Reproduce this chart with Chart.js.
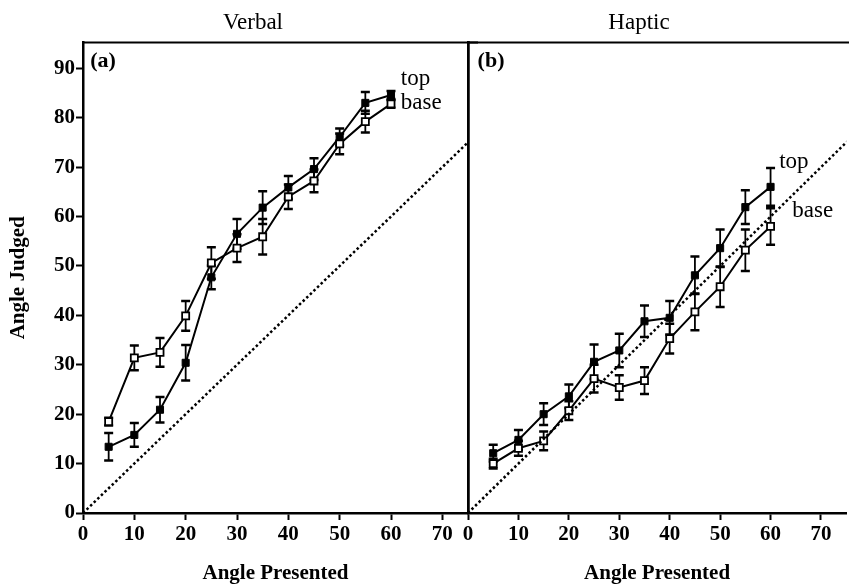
<!DOCTYPE html>
<html>
<head>
<meta charset="utf-8">
<script src="https://cdn.jsdelivr.net/npm/chart.js@4.4.1/dist/chart.umd.min.js"></script>
<style>
  html, body { margin: 0; padding: 0; background: #fff; overflow: hidden; width: 849px; height: 586px; }
  .panel { position: absolute; top: 0; height: 586px; }
  #wrapA { left: 0; width: 506px; }
  #wrapB { left: 425px; width: 428px; }
</style>
</head>
<body>
<div class="panel" id="wrapA"><canvas id="verbal"></canvas></div>
<div class="panel" id="wrapB"><canvas id="haptic"></canvas></div>
<script>
const anglesPresented = [5, 10, 15, 20, 25, 30, 35, 40, 45, 50, 55, 60];

const verbalTop = [13.4, 15.8, 20.9, 30.4, 47.7, 56.5, 61.8, 65.9, 69.6, 76.1, 83.0, 84.6];
const verbalTopErr = [2.8, 2.4, 2.6, 3.6, 2.4, 3.0, 3.3, 2.3, 2.2, 1.7, 2.2, 0.8];
const verbalBase = [18.5, 31.4, 32.5, 39.9, 50.6, 53.6, 55.9, 64.0, 67.2, 74.7, 79.2, 82.8];
const verbalBaseErr = [0.8, 2.5, 2.9, 3.0, 3.2, 2.8, 3.6, 2.5, 2.3, 2.1, 2.2, 0.8];

const hapticTop = [12.1, 14.8, 20.0, 23.6, 30.6, 32.9, 38.8, 39.5, 48.1, 53.6, 61.9, 66.0];
const hapticTopErr = [1.7, 2.0, 2.2, 2.4, 3.5, 3.4, 3.2, 3.4, 3.8, 3.8, 3.4, 3.8];
const hapticBase = [10.0, 13.1, 14.6, 20.7, 27.2, 25.4, 26.8, 35.3, 40.7, 45.8, 53.2, 58.0];
const hapticBaseErr = [1.0, 1.5, 1.9, 1.9, 2.8, 2.5, 2.7, 3.0, 3.7, 4.1, 4.2, 3.7];

// perfect-accuracy diagonal (judged == presented)
const identityRange = [0, 100];

const xTicks = [0, 10, 20, 30, 40, 50, 60, 70];
const yTicks = [0, 10, 20, 30, 40, 50, 60, 70, 80, 90];

const SERIF = '"Liberation Serif", "Times New Roman", serif';

function points(ys) {
    return anglesPresented.map((x, i) => ({x: x, y: ys[i]}));
}

// vertical error bars with caps, under the markers
const errorBars = {
    id: 'errorBars',
    beforeDatasetsDraw(chart) {
        const ctx = chart.ctx;
        const xs = chart.scales.x, ys = chart.scales.y;
        ctx.save();
        ctx.strokeStyle = '#000';
        chart.data.datasets.forEach(ds => {
            if (!ds.errors) return;
            ds.data.forEach((p, j) => {
                const e = ds.errors[j];
                const px = xs.getPixelForValue(p.x);
                const y1 = ys.getPixelForValue(p.y + e);
                const y2 = ys.getPixelForValue(p.y - e);
                ctx.lineWidth = 1.8;
                ctx.beginPath();
                ctx.moveTo(px, y1);
                ctx.lineTo(px, y2);
                ctx.stroke();
                ctx.lineWidth = 2.5;
                ctx.beginPath();
                ctx.moveTo(px - 4.5, y1); ctx.lineTo(px + 4.5, y1);
                ctx.moveTo(px - 4.5, y2); ctx.lineTo(px + 4.5, y2);
                ctx.stroke();
            });
        });
        ctx.restore();
    }
};

// top edge of the frame + the little text notes inside the panels
const panelExtras = {
    id: 'panelExtras',
    afterDatasetsDraw(chart, args, opts) {
        const ctx = chart.ctx;
        const a = chart.chartArea;
        ctx.save();
        ctx.strokeStyle = '#000';
        ctx.lineWidth = 2;
        ctx.beginPath();
        ctx.moveTo(a.left, a.top);
        ctx.lineTo(a.right + 10, a.top);
        ctx.stroke();
        ctx.fillStyle = '#000';
        ctx.textBaseline = 'middle';
        ctx.textAlign = 'left';
        for (const n of (opts.notes || [])) {
            ctx.font = n.font;
            ctx.fillText(n.text, chart.scales.x.getPixelForValue(n.x), chart.scales.y.getPixelForValue(n.y));
        }
        ctx.restore();
    }
};

function buildPanel(canvas, title, topVals, topErr, baseVals, baseErr, notes, leftAxis) {
    const tickFont = {family: SERIF, size: 21, weight: 'bold'};
    const axisTitleFont = {family: SERIF, size: 21, weight: 'bold'};
    const scales = {
        x: {
            type: 'linear',
            min: 0,
            max: 75,
            afterBuildTicks: s => { s.ticks = xTicks.map(v => ({value: v})); },
            afterFit: s => { s.height = 73; },
            ticks: {color: '#000', font: tickFont, padding: 2, maxRotation: 0, autoSkip: false},
            grid: {drawOnChartArea: false, tickLength: 7, tickWidth: 2, tickColor: '#000'},
            border: {display: true, color: '#000', width: 2.5},
            title: {display: true, text: 'Angle Presented', color: '#000', font: axisTitleFont, padding: {top: 0, bottom: 0}}
        },
        y: {
            min: 0,
            max: 95.2,
            afterBuildTicks: s => { s.ticks = yTicks.map(v => ({value: v})); },
            afterFit: s => { s.width = leftAxis ? 83 : 43; },
            ticks: {display: leftAxis, color: '#000', font: tickFont, padding: 1},
            grid: {display: leftAxis, drawOnChartArea: false, tickLength: 7, tickWidth: 2, tickColor: '#000'},
            border: {display: true, color: '#000', width: 2.5},
            title: {display: leftAxis, text: 'Angle Judged', color: '#000', font: axisTitleFont, padding: {top: 6, bottom: 0}}
        }
    };
    if (leftAxis) {
        // spacer on the right so the title sits where the original has it; its border is the divider
        scales.yr = {
            position: 'right',
            ticks: {display: false},
            grid: {display: false},
            border: {display: true, color: '#000', width: 2.5},
            afterFit: s => { s.width = 38; }
        };
    }
    return new Chart(canvas, {
        type: 'line',
        data: {
            datasets: [
                {
                    label: 'identity',
                    data: identityRange.map(v => ({x: v, y: v})),
                    borderColor: '#000',
                    borderWidth: 2.5,
                    borderDash: [2.5, 2.5],
                    pointRadius: 0
                },
                {
                    label: 'base',
                    data: points(baseVals),
                    errors: baseErr,
                    borderColor: '#000',
                    borderWidth: 2,
                    pointStyle: 'rect',
                    pointRadius: 5,
                    pointBackgroundColor: '#fff',
                    pointBorderColor: '#000',
                    pointBorderWidth: 1.8
                },
                {
                    label: 'top',
                    data: points(topVals),
                    errors: topErr,
                    borderColor: '#000',
                    borderWidth: 2,
                    pointStyle: 'rect',
                    pointRadius: 5,
                    pointBackgroundColor: '#000',
                    pointBorderColor: '#000',
                    pointBorderWidth: 1
                }
            ]
        },
        options: {
            responsive: true,
            maintainAspectRatio: false,
            animation: false,
            layout: {padding: 0},
            scales: scales,
            plugins: {
                legend: {display: false},
                tooltip: {enabled: false},
                title: {
                    display: true,
                    text: title,
                    color: '#000',
                    font: {family: SERIF, size: 23, weight: 'normal'},
                    padding: {top: 9, bottom: 6}
                },
                panelExtras: {notes: notes}
            }
        },
        plugins: [errorBars, panelExtras]
    });
}

const noteFont = '23px ' + SERIF;
const tagFont = 'bold 22px ' + SERIF;

buildPanel(document.getElementById('verbal'), 'Verbal',
    verbalTop, verbalTopErr, verbalBase, verbalBaseErr,
    [
        {text: '(a)', x: 1.4, y: 91.5, font: tagFont},
        {text: 'top', x: 61.9, y: 87.8, font: noteFont},
        {text: 'base', x: 61.9, y: 83.0, font: noteFont}
    ], true);

buildPanel(document.getElementById('haptic'), 'Haptic',
    hapticTop, hapticTopErr, hapticBase, hapticBaseErr,
    [
        {text: '(b)', x: 1.9, y: 91.5, font: tagFont},
        {text: 'top', x: 61.7, y: 71.1, font: noteFont},
        {text: 'base', x: 64.3, y: 61.2, font: noteFont}
    ], false);
</script>
</body>
</html>
